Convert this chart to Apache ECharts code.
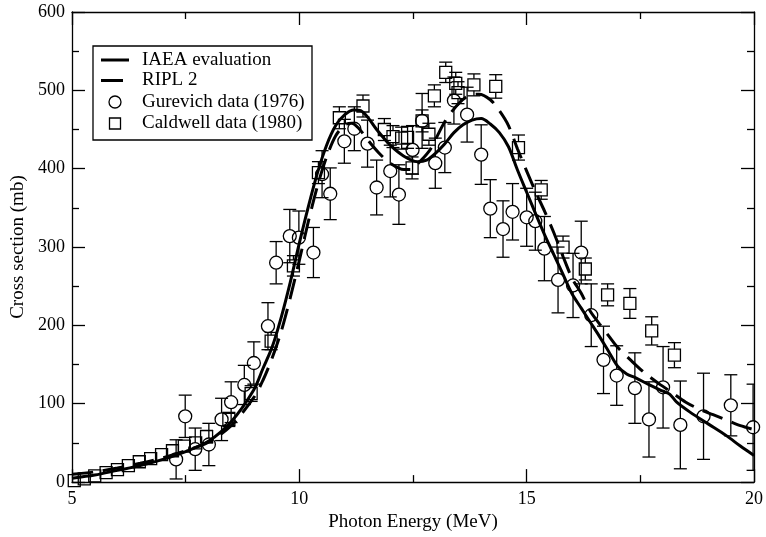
<!DOCTYPE html>
<html>
<head>
<meta charset="utf-8">
<script src="https://cdn.jsdelivr.net/npm/echarts@6/dist/echarts.min.js"></script>
<style>
html,body{margin:0;padding:0;background:#fff;}
#chart{width:766px;height:537px;}
</style>
</head>
<body>
<div id="chart"></div>
<script>
// ---- Data ----
const xTicks = [5, 10, 15, 20];
const yTicks = [0, 100, 200, 300, 400, 500, 600];
const legendNames = ['IAEA evaluation', 'RIPL 2', 'Gurevich data (1976)', 'Caldwell data (1980)'];

const iaeaE  = [5.0, 5.5, 6.0, 6.5, 7.0, 7.5, 8.0, 8.5, 9.0, 9.2, 9.4, 9.6, 9.8, 10.0, 10.2, 10.4, 10.6, 10.8, 11.0, 11.2, 11.35, 11.5, 11.7, 12.0, 12.3, 12.6, 12.8, 13.0, 13.2, 13.4, 13.6, 13.8, 14.0, 14.2, 14.4, 14.6, 14.8, 15.0, 15.2, 15.4, 15.6, 15.8, 16.0, 16.2, 16.4, 16.6, 16.8, 17.0, 17.2, 17.4, 17.7, 18.0, 18.15, 18.3, 18.6, 19.0, 19.4, 19.7, 20.0];
const iaeaCS = [5, 9, 15, 21, 29, 39, 52, 77, 118, 145, 172, 210, 255, 305, 352, 395, 430, 455, 469, 475, 474, 466, 450, 430, 416, 409, 411, 420, 432, 446, 456, 462, 464, 457, 446, 428, 398, 370, 342, 315, 290, 265, 240, 222, 204, 186, 167, 148, 138, 133, 124, 116, 112, 102, 89, 74, 59, 46, 34];

const riplE  = [5.0, 5.5, 6.0, 6.5, 7.0, 7.5, 8.0, 8.5, 9.0, 9.2, 9.4, 9.6, 9.8, 10.0, 10.2, 10.4, 10.6, 10.8, 11.0, 11.15, 11.3, 11.5, 11.75, 12.0, 12.3, 12.45, 12.6, 12.85, 13.0, 13.2, 13.5, 13.75, 13.95, 14.2, 14.4, 14.6, 14.8, 15.0, 15.2, 15.4, 15.6, 15.8, 16.0, 16.2, 16.4, 16.6, 16.8, 17.0, 17.3, 17.6, 17.9, 18.2, 18.5, 18.8, 19.1, 19.4, 19.7, 20.0];
const riplCS = [10, 13, 18, 24, 31, 40, 51, 72, 108, 130, 158, 192, 235, 283, 333, 378, 415, 442, 456, 458, 452, 437, 420, 407, 399, 399, 406, 422, 438, 460, 483, 494, 495, 488, 474, 455, 425, 397, 370, 345, 318, 288, 260, 241, 218, 202, 187, 172, 155, 139, 126, 114, 102, 93, 86, 79, 72, 67];

const gurevichE   = [7.29, 7.49, 7.71, 8.01, 8.29, 8.50, 8.79, 9.00, 9.31, 9.49, 9.79, 9.99, 10.31, 10.50, 10.68, 10.99, 11.21, 11.50, 11.70, 12.00, 12.19, 12.49, 12.70, 12.99, 13.20, 13.40, 13.69, 14.00, 14.20, 14.48, 14.69, 15.00, 15.19, 15.39, 15.69, 16.02, 16.20, 16.42, 16.69, 16.98, 17.38, 17.69, 18.00, 18.38, 18.89, 19.49, 19.98];
const gurevichCS  = [29, 84, 42, 48, 80, 102, 124, 152, 199, 280, 314, 312, 293, 393, 368, 435, 451, 432, 376, 397, 367, 424, 461, 407, 427, 487, 469, 418, 349, 323, 345, 338, 333, 298, 258, 251, 293, 213, 156, 136, 120, 80, 121, 73, 84, 98, 70];
const gurevichErr = [25, 27, 27, 27, 27, 26, 25, 27, 30, 27, 34, 34, 32, 30, 33, 28, 28, 30, 35, 33, 38, 31, 35, 32, 32, 30, 35, 38, 37, 36, 36, 37, 37, 41, 42, 41, 40, 40, 43, 38, 45, 48, 52, 56, 55, 39, 55];

const caldwellE   = [5.05, 5.27, 5.50, 5.75, 6.00, 6.24, 6.48, 6.73, 6.97, 7.21, 7.47, 7.72, 7.96, 8.45, 8.94, 9.38, 9.87, 10.42, 10.88, 11.40, 11.87, 12.06, 12.25, 12.38, 12.48, 12.70, 12.85, 12.97, 13.22, 13.44, 13.49, 13.84, 14.32, 14.82, 15.32, 15.80, 16.29, 16.78, 17.27, 17.75, 18.25];
const caldwellCS  = [2, 4, 8, 12, 16, 21, 26, 30, 35, 40, 46, 50, 58, 80, 113, 180, 276, 395, 465, 480, 450, 441, 439, 440, 401, 461, 444, 493, 523, 509, 497, 507, 505, 427, 373, 300, 272, 239, 228, 193, 162];
const caldwellErr = [5, 5, 5, 5, 5, 5, 5, 5, 6, 6, 7, 7, 8, 9, 10, 11, 13, 14, 14, 14, 14, 14, 14, 14, 14, 14, 14, 14, 13, 14, 14, 14, 15, 16, 12, 14, 14, 14, 19, 18, 16];

// ---- Build ----
const FONT = '"Liberation Serif", "Times New Roman", serif';
const pairs = (xs, ys) => xs.map((x, i) => [x, ys[i]]);
const triples = (xs, ys, es) => xs.map((x, i) => [x, ys[i], es[i]]);

function errRender(half, capW) {
  return function (params, api) {
    const x = api.value(0), y = api.value(1), e = api.value(2);
    const c = api.coord([x, y]);
    const t = api.coord([x, y + e]);
    const b = api.coord([x, y - e]);
    const st = { stroke: '#000', lineWidth: 1.3 };
    const ch = [];
    if (c[1] - half > t[1]) {
      ch.push({ type: 'line', shape: { x1: c[0], y1: t[1], x2: c[0], y2: c[1] - half }, style: st });
      ch.push({ type: 'line', shape: { x1: c[0] - capW / 2, y1: t[1], x2: c[0] + capW / 2, y2: t[1] }, style: st });
    }
    if (c[1] + half < b[1]) {
      ch.push({ type: 'line', shape: { x1: c[0], y1: c[1] + half, x2: c[0], y2: b[1] }, style: st });
      ch.push({ type: 'line', shape: { x1: c[0] - capW / 2, y1: b[1], x2: c[0] + capW / 2, y2: b[1] }, style: st });
    }
    return { type: 'group', children: ch };
  };
}

const axisCommon = {
  type: 'value',
  axisLine: { show: true, onZero: false, lineStyle: { color: '#000', width: 1.3 } },
  axisTick: { show: true, inside: true, length: 13, lineStyle: { color: '#000', width: 1.3 } },
  minorTick: { show: true, splitNumber: 2, length: 7, lineStyle: { color: '#000', width: 1.3 } },
  splitLine: { show: false },
  minorSplitLine: { show: false }
};

// legend drawn as graphic (box, icons, real text)
const LX = 93, LY = 46, LW = 219, LH = 94;
const rowY = [60, 80.5, 102, 123.5];
const textStyle = (t, y) => ({ type: 'text', x: 142, y: y, z: 101,
  style: { text: t, fontFamily: FONT, fontSize: 19, fill: '#000', verticalAlign: 'middle', align: 'left' } });
const legendGraphic = [
  { type: 'rect', z: 100, shape: { x: LX, y: LY, width: LW, height: LH },
    style: { fill: '#fff', stroke: '#000', lineWidth: 1.3 } },
  { type: 'line', z: 101, shape: { x1: 101, y1: rowY[0], x2: 129, y2: rowY[0] }, style: { stroke: '#000', lineWidth: 3 } },
  { type: 'line', z: 101, shape: { x1: 101, y1: rowY[1], x2: 123, y2: rowY[1] }, style: { stroke: '#000', lineWidth: 3 } },
  { type: 'circle', z: 101, shape: { cx: 115, cy: rowY[2], r: 6 }, style: { fill: 'none', stroke: '#000', lineWidth: 1.3 } },
  { type: 'rect', z: 101, shape: { x: 109.5, y: rowY[3] - 5.5, width: 11, height: 11 }, style: { fill: 'none', stroke: '#000', lineWidth: 1.3 } },
  textStyle(legendNames[0], rowY[0]),
  textStyle(legendNames[1], rowY[1]),
  textStyle(legendNames[2], rowY[2]),
  textStyle(legendNames[3], rowY[3])
];

const chart = echarts.init(document.getElementById('chart'), null, { renderer: 'canvas' });
chart.setOption({
  animation: false,
  backgroundColor: '#fff',
  grid: { left: 72, right: 10, top: 12, bottom: 47, containLabel: false },
  graphic: legendGraphic,
  xAxis: [
    Object.assign({}, axisCommon, {
      position: 'bottom', min: xTicks[0], max: xTicks[xTicks.length - 1], interval: xTicks[1] - xTicks[0],
      axisLabel: { show: true, margin: 8, fontFamily: FONT, fontSize: 18, color: '#000' },
      name: 'Photon Energy (MeV)', nameLocation: 'middle', nameGap: 22,
      nameTextStyle: { fontFamily: FONT, fontSize: 19, color: '#000' }
    }),
    Object.assign({}, axisCommon, {
      position: 'top', min: xTicks[0], max: xTicks[xTicks.length - 1], interval: xTicks[1] - xTicks[0],
      axisLabel: { show: false }
    })
  ],
  yAxis: [
    Object.assign({}, axisCommon, {
      position: 'left', min: yTicks[0], max: yTicks[yTicks.length - 1], interval: yTicks[1] - yTicks[0],
      axisLabel: { show: true, margin: 7, fontFamily: FONT, fontSize: 18, color: '#000' },
      name: 'Cross section (mb)', nameLocation: 'middle', nameGap: 44,
      nameTextStyle: { fontFamily: FONT, fontSize: 19, color: '#000' }
    }),
    Object.assign({}, axisCommon, {
      position: 'right', min: yTicks[0], max: yTicks[yTicks.length - 1], interval: yTicks[1] - yTicks[0],
      axisLabel: { show: false }
    })
  ],
  series: [
    {
      type: 'custom', xAxisIndex: 0, yAxisIndex: 0, clip: true, silent: true,
      renderItem: errRender(6.5, 13),
      encode: { x: 0, y: 1 },
      data: triples(gurevichE, gurevichCS, gurevichErr), z: 2
    },
    {
      type: 'custom', xAxisIndex: 0, yAxisIndex: 0, clip: true, silent: true,
      renderItem: errRender(6, 13),
      encode: { x: 0, y: 1 },
      data: triples(caldwellE, caldwellCS, caldwellErr), z: 2
    },
    {
      name: legendNames[2], type: 'scatter', symbol: 'circle', symbolSize: 13,
      itemStyle: { color: 'rgba(0,0,0,0)', borderColor: '#000', borderWidth: 1.3, opacity: 1 },
      emphasis: { disabled: true }, silent: true,
      data: pairs(gurevichE, gurevichCS), z: 3
    },
    {
      name: legendNames[3], type: 'scatter', symbol: 'rect', symbolSize: 12,
      itemStyle: { color: 'rgba(0,0,0,0)', borderColor: '#000', borderWidth: 1.3, opacity: 1 },
      emphasis: { disabled: true }, silent: true,
      data: pairs(caldwellE, caldwellCS), z: 3
    },
    {
      name: legendNames[0], type: 'line', showSymbol: false, symbol: 'none',
      smooth: 0.3, silent: true,
      lineStyle: { color: '#000', width: 3 }, itemStyle: { color: '#000' },
      data: pairs(iaeaE, iaeaCS), z: 4
    },
    {
      name: legendNames[1], type: 'line', showSymbol: false, symbol: 'none',
      smooth: 0.3, silent: true,
      lineStyle: { color: '#000', width: 3, type: [21, 10] }, itemStyle: { color: '#000' },
      data: pairs(riplE, riplCS), z: 4
    }
  ]
});
</script>
</body>
</html>
